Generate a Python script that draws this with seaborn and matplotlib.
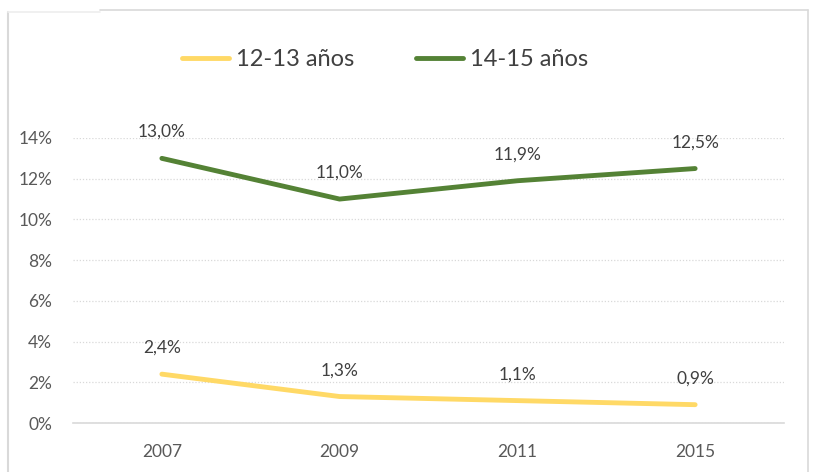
import matplotlib
matplotlib.use("Agg")
import matplotlib.pyplot as plt
import seaborn as sns
import pandas as pd
from matplotlib.lines import Line2D

years = ["2007", "2009", "2011", "2015"]
young = [2.4, 1.3, 1.1, 0.9]
older = [13.0, 11.0, 11.9, 12.5]
series_names = ["12-13 años", "14-15 años"]
yticks = [0, 2, 4, 6, 8, 10, 12, 14]

sns.set_theme(style="white")
plt.rcParams['font.family'] = ['Lato', 'DejaVu Sans']

df = pd.DataFrame({
    "year": years * 2,
    "value": young + older,
    "serie": [series_names[0]] * 4 + [series_names[1]] * 4,
})
colors = {series_names[0]: "#FFD966", series_names[1]: "#548235"}

fig = plt.figure(figsize=(8.14, 4.72), dpi=100)
ax = fig.add_axes([73/814, 1-423/472, (784-73)/814, (423-138)/472])
sns.lineplot(data=df, x="year", y="value", hue="serie", palette=colors,
             linewidth=3.5, ax=ax, legend=False, sort=False)
for l in ax.lines:
    l.set_solid_capstyle("round")

ax.set_xlim(-0.5, 3.5)
ax.set_ylim(0, 14)
ax.set_yticks(yticks)
ax.set_yticklabels([f"{v}%" for v in yticks], color="#595959", fontsize=12.5)
ax.tick_params(axis="x", colors="#595959", labelsize=12.5, pad=15, length=0)
ax.tick_params(axis="y", pad=15, length=0)
ax.set_xlabel("")
ax.set_ylabel("")
for s in ["top", "right", "left"]:
    ax.spines[s].set_visible(False)
ax.spines["bottom"].set_color("#d9d9d9")
ax.spines["bottom"].set_linewidth(1.2)
ax.yaxis.grid(True, linestyle=(0, (1, 1.5)), color="#d9d9d9", linewidth=0.9)
ax.set_axisbelow(True)

for vals in (young, older):
    for i, v in enumerate(vals):
        ax.annotate(f"{v:.1f}%".replace(".", ","), (i, v), xytext=(0, 19),
                    textcoords="offset points", ha="center", va="center",
                    fontsize=12.5, color="#404040")

handles = [Line2D([0], [0], color=colors[n], lw=3.5, solid_capstyle="round") for n in series_names]
fig.legend(handles, series_names, loc="center", bbox_to_anchor=(385/814, 1-60/472),
           ncol=2, frameon=False, fontsize=17, handlelength=2.0, handletextpad=0.3,
           columnspacing=2.6, labelcolor="#404040")

# outer frame
fig.add_artist(Line2D([8/814, 8/814], [0, 1-12/472], transform=fig.transFigure, color="#d9d9d9", lw=1.5))
fig.add_artist(Line2D([8/814, 100/814], [1-12/472, 1-12/472], transform=fig.transFigure, color="#eeeeee", lw=1.2))
fig.add_artist(Line2D([100/814, 808/814], [1-10/472, 1-10/472], transform=fig.transFigure, color="#d9d9d9", lw=1.2))
fig.add_artist(Line2D([808/814, 808/814], [0, 1-10/472], transform=fig.transFigure, color="#d9d9d9", lw=1.2))

fig.savefig("out.png", dpi=100)
